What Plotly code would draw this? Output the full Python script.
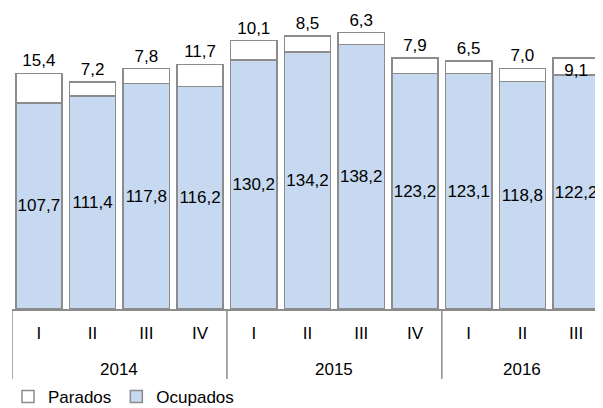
import plotly.graph_objects as go

years = ["2014"] * 4 + ["2015"] * 4 + ["2016"] * 3
quarters = ["I", "II", "III", "IV", "I", "II", "III", "IV", "I", "II", "III"]
ocupados = [107.7, 111.4, 117.8, 116.2, 130.2, 134.2, 138.2, 123.2, 123.1, 118.8, 122.2]
parados = [15.4, 7.2, 7.8, 11.7, 10.1, 8.5, 6.3, 7.9, 6.5, 7.0, 9.1]

cats = [f"{y} {q}" for y, q in zip(years, quarters)]
FONT = "Liberation Sans, Arial, sans-serif"
FS = 17
edge = "#8c8c8c"

# the page body adds an 8px margin, so the figure is sized to end at the window edge
W, H = 595, 400
PLOT_H = 301

fig = go.Figure()
fig.add_trace(go.Bar(
    x=cats, y=ocupados, name="Ocupados",
    marker=dict(color="#c6d9f1", line=dict(color=edge, width=1.5)),
    texttemplate="%{y:.1f}", textposition="inside", insidetextanchor="middle",
    textangle=0,
    textfont=dict(family=FONT, size=FS, color="black"),
))
par_pos = ["outside"] * (len(parados) - 1) + ["inside"]
fig.add_trace(go.Bar(
    x=cats, y=parados, name="Parados",
    marker=dict(color="white", line=dict(color=edge, width=1.5)),
    texttemplate="%{y:.1f}", textposition=par_pos, cliponaxis=False,
    textangle=0,
    textfont=dict(family=FONT, size=FS, color="black"),
))

# year group labels and dividers
unique_years = []
for y in years:
    if y not in unique_years:
        unique_years.append(y)
annotations = []
shapes = []
for yr in unique_years:
    idx = [i for i, y in enumerate(years) if y == yr]
    mid = (idx[0] + idx[-1]) / 2
    annotations.append(dict(x=mid, y=-60 / PLOT_H, xref="x", yref="paper", text=yr,
                            showarrow=False, xanchor="center", yanchor="middle",
                            font=dict(family=FONT, size=FS, color="black")))
    shapes.append(dict(type="line", xref="x", yref="paper", x0=idx[0] - 0.5, x1=idx[0] - 0.5,
                       y0=0, y1=-70 / PLOT_H, line=dict(color=edge, width=1.5)))

fig.update_layout(
    width=W, height=H,
    margin=dict(l=4, r=0, t=0, b=H - PLOT_H),
    barmode="stack", bargap=0.14,
    separators=",.",
    plot_bgcolor="white", paper_bgcolor="white",
    font=dict(family=FONT, size=FS, color="black"),
    uniformtext=dict(minsize=FS, mode="show"),
    showlegend=True,
    legend=dict(orientation="h", traceorder="reversed",
                xref="container", yref="container", x=0, y=1 - 389 / H,
                xanchor="left", yanchor="middle", font=dict(size=FS),
                tracegroupgap=0, itemwidth=30),
    annotations=annotations,
    shapes=shapes,
    xaxis=dict(type="category", range=[-0.5, 10.5], automargin=False,
               showline=True, linecolor=edge, linewidth=1.5,
               tickmode="array", tickvals=cats, ticktext=quarters,
               ticks="outside", ticklen=8, tickcolor="rgba(0,0,0,0)",
               tickfont=dict(size=FS), showgrid=False),
    yaxis=dict(range=[0, 161.5 * PLOT_H / 309], visible=False, showgrid=False,
               automargin=False),
)

fig.write_html("out.html")
